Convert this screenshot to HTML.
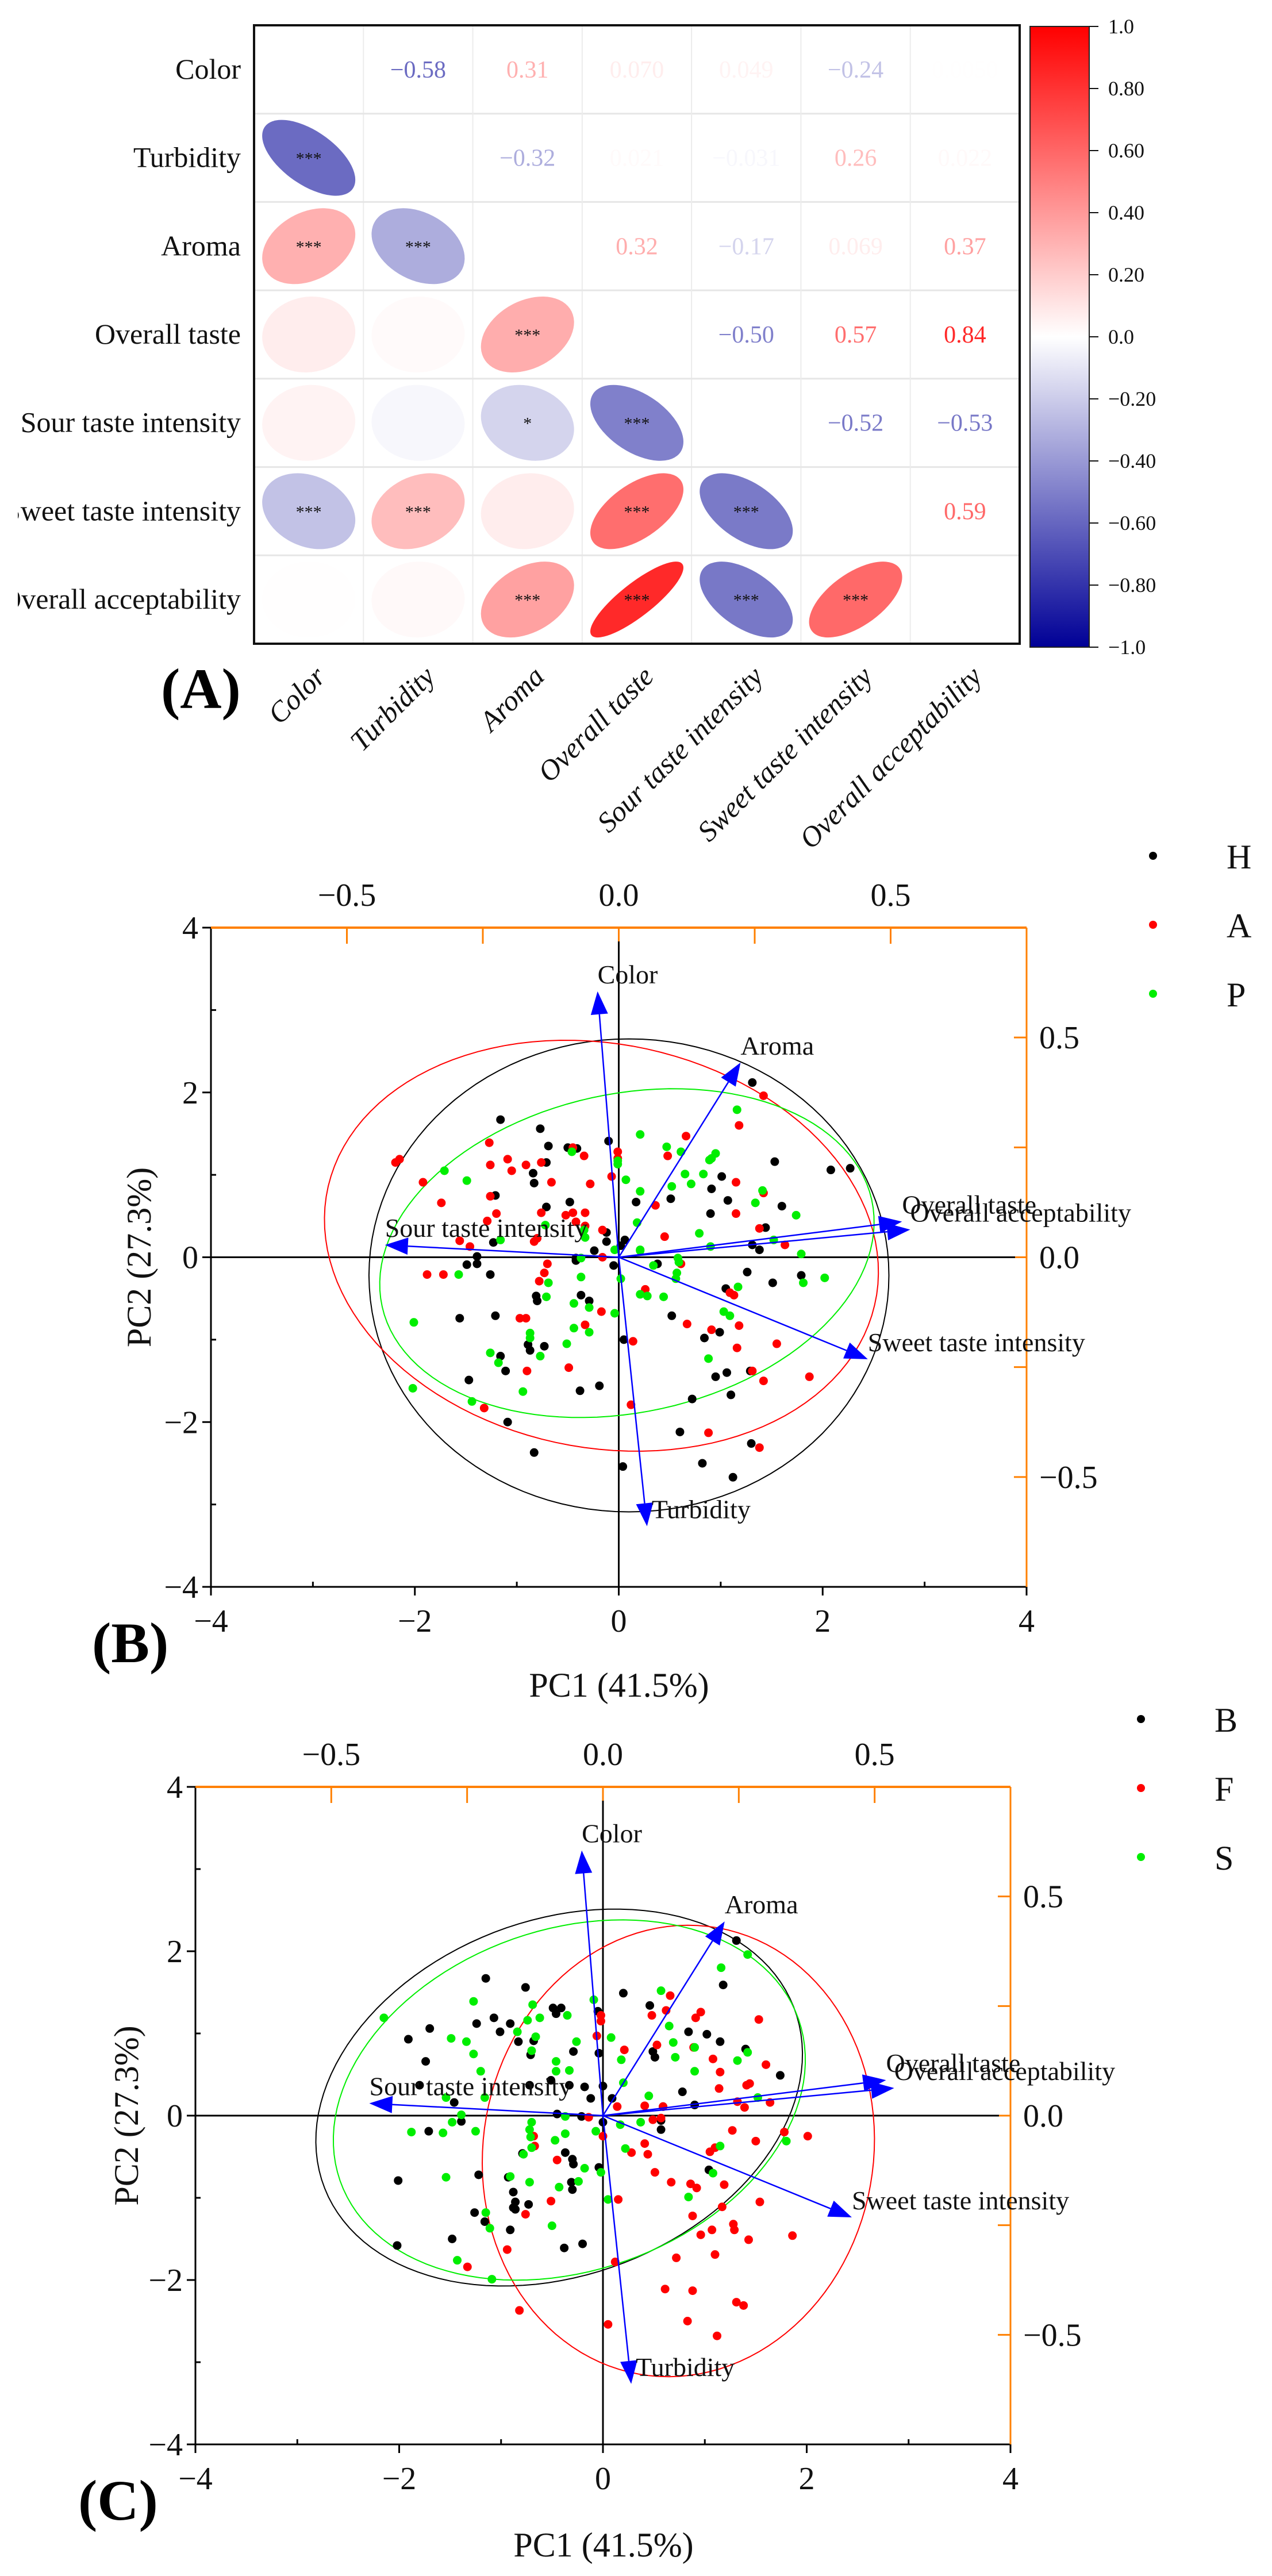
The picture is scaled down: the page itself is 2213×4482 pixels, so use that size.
<!DOCTYPE html>
<html><head><meta charset="utf-8"><style>
html,body{margin:0;padding:0;background:#fff;}
svg{display:block;font-family:"Liberation Serif",serif;}
</style></head><body>
<svg id="fig" xmlns="http://www.w3.org/2000/svg" width="2213" height="4482" viewBox="0 0 2213 4482">
<defs>
<linearGradient id="cbg" x1="0" y1="0" x2="0" y2="1">
<stop offset="0" stop-color="#ff0000"/><stop offset="0.5" stop-color="#ffffff"/><stop offset="1" stop-color="#000096"/>
</linearGradient>
<clipPath id="rowclip"><rect x="31" y="0" width="2182" height="1160"/></clipPath>
</defs>
<g id="panelA"></g>
<g id="panelB"></g>
<g id="panelC"></g>
</svg>
<script>
// ---------- Panel A data ----------
const varNames = ['Color','Turbidity','Aroma','Overall taste','Sour taste intensity','Sweet taste intensity','Overall acceptability'];
const corrColor = [1, -0.58, 0.31, 0.070, 0.049, -0.24, 0.005];
const corrTurbidity = [-0.58, 1, -0.32, 0.021, -0.031, 0.26, 0.022];
const corrAroma = [0.31, -0.32, 1, 0.32, -0.17, 0.069, 0.37];
const corrOverallTaste = [0.070, 0.021, 0.32, 1, -0.50, 0.57, 0.84];
const corrSour = [0.049, -0.031, -0.17, -0.50, 1, -0.52, -0.53];
const corrSweet = [-0.24, 0.26, 0.069, 0.57, -0.52, 1, 0.59];
const corrOA = [0.005, 0.022, 0.37, 0.84, -0.53, 0.59, 1];
const sigColor = ['', '***', '***', '', '', '***', ''];
const sigTurbidity = ['***', '', '***', '', '', '***', ''];
const sigAroma = ['***', '***', '', '***', '*', '', '***'];
const sigOverallTaste = ['', '', '***', '', '***', '***', '***'];
const sigSour = ['', '', '*', '***', '', '***', '***'];
const sigSweet = ['***', '***', '', '***', '***', '', '***'];
const sigOA = ['', '', '***', '***', '***', '***', ''];
const cbTicks = [1.0, 0.8, 0.6, 0.4, 0.2, 0.0, -0.2, -0.4, -0.6, -0.8, -1.0];
const cbTickLabels = ['1.0','0.80','0.60','0.40','0.20','0.0','\u22120.20','\u22120.40','\u22120.60','\u22120.80','\u22121.0'];

// ---------- PCA data (shared loadings) ----------
const loadNames = ['Color','Aroma','Overall taste','Overall acceptability','Sour taste intensity','Sweet taste intensity','Turbidity'];
const loadPC1 = [-0.039, 0.224, 0.521, 0.536, -0.430, 0.458, 0.052];
const loadPC2 = [0.605, 0.443, 0.081, 0.063, 0.028, -0.232, -0.612];
const pcaTicks = [-4, -2, 0, 2, 4];
const loadTicks = [-0.5, 0, 0.5];
const loadTickLabels = ['\u22120.5', '0.0', '0.5'];

// Panel B groups
const bGroupNames = ['H', 'A', 'P'];
const hX = [1.31,-1.16,-0.77,-0.69,-0.50,-0.41,-0.84,-0.83,-0.10,-0.71,1.53,2.08,2.27,1.01,0.91,1.07,0.51,0.17,-0.48,-0.71,1.60,0.90,1.44,1.31,1.38,0.06,-0.12,0.02,-0.24,-1.21,-1.23,-1.39,-1.39,-1.49,-1.26,-0.42,-0.05,0.38,1.26,1.51,1.79,1.05,-1.56,-1.21,-0.81,-0.80,-0.29,-0.37,0.52,0.99,0.84,0.05,-0.89,-0.87,-0.73,-1.16,-1.11,-1.47,-0.38,-0.19,0.95,1.06,1.29,0.72,1.10,-1.09,-0.83,0.60,0.82,0.04,1.12,1.30,-0.12,-0.42];
const hY = [2.12,1.67,1.56,1.35,1.33,1.32,1.02,0.90,1.41,1.15,1.16,1.06,1.08,0.98,0.83,0.69,0.71,0.67,0.67,0.61,0.62,0.53,0.36,0.15,0.09,0.21,0.19,0.14,0.08,0.75,0.18,0.01,-0.08,-0.09,-0.21,-0.04,-0.10,-0.08,-0.18,-0.31,-0.22,-0.38,-0.74,-0.71,-0.47,-0.53,-0.53,-0.46,-0.71,-0.91,-0.98,-1.00,-1.06,-1.13,-1.08,-1.20,-1.38,-1.49,-1.62,-1.56,-1.45,-1.40,-1.38,-1.72,-1.67,-2.00,-2.37,-2.12,-2.50,-2.54,-2.67,-2.26,0.30,-0.01];
const aX = [1.42,1.18,0.66,0.48,1.15,1.42,1.15,1.38,1.63,0.45,0.36,-0.01,-0.01,-0.07,-0.28,-0.45,-0.34,-0.76,-0.91,-1.05,-1.26,-1.09,-1.27,-2.15,-2.19,-1.92,-1.74,-1.26,-1.20,-0.66,-0.76,-0.52,-0.45,-0.33,-0.42,-0.16,-0.33,-0.83,-1.56,-1.46,-1.88,-1.72,-0.70,-0.78,-0.73,-0.16,0.26,0.61,1.09,1.13,1.18,0.67,0.91,1.16,1.55,1.87,1.42,1.31,0.14,-0.17,-0.33,-0.49,-0.91,-0.97,-0.90,-1.32,0.12,0.88,1.38,-0.80,-1.29];
const aY = [1.96,1.60,1.47,1.23,0.91,0.78,0.53,0.35,0.15,0.25,0.63,1.28,1.20,0.98,0.89,1.33,1.23,1.15,1.12,1.05,1.12,1.19,1.39,1.19,1.15,0.91,0.66,0.74,0.53,0.91,0.54,0.51,0.54,0.54,0.43,0.33,0.38,0.19,0.20,0.13,-0.21,-0.21,-0.08,-0.29,-0.19,0.00,-0.39,-0.08,-0.43,-0.46,-0.83,-0.81,-0.88,-1.10,-1.05,-1.45,-1.50,-1.38,-1.02,-0.66,-0.82,-1.34,-0.74,-0.74,-1.38,-1.83,-1.79,-2.13,-2.31,0.23,0.44];
const pX = [1.16,0.21,0.47,0.61,0.95,0.89,0.65,0.83,0.71,0.52,0.07,-0.01,-0.01,0.21,1.34,1.41,1.74,0.79,0.90,1.52,1.79,2.02,1.81,1.03,1.09,1.17,0.88,0.59,0.57,0.56,0.44,0.28,0.21,0.02,-0.04,-0.29,-0.29,-0.44,-0.51,-0.44,-0.37,-0.37,-0.33,-0.34,-0.46,-0.72,-0.69,-0.71,-0.87,-0.87,-0.77,-0.94,-1.18,-1.26,-1.44,-2.02,-2.01,-1.57,-1.71,-1.49,-1.16,-0.04,0.21,0.34,0.58,0.18,0.91,0.21];
const pY = [1.79,1.49,1.34,1.28,1.26,1.18,1.01,1.01,0.89,0.86,0.94,1.17,1.13,0.80,0.66,0.81,0.51,0.29,0.13,0.21,0.04,-0.25,-0.31,-0.66,-0.71,-0.36,-1.23,-0.06,-0.19,-0.26,-0.48,-0.47,0.08,-0.26,-0.68,-0.91,-0.61,-0.86,-1.05,-0.56,-0.24,-0.01,0.24,0.33,1.28,0.39,-0.31,-0.48,-0.92,-0.98,-1.20,-1.63,-1.28,-1.16,-1.75,-1.59,-0.79,-0.21,1.05,0.93,0.21,0.09,0.09,-0.10,-0.01,0.42,1.20,-0.45];
// ellipse stats: [centerX, centerY, semiMajor, semiMinor, angleDeg]
const hEllipse = [0.10, -0.22, 2.55, 2.87, 0];
const aEllipse = [-0.17, 0.14, 2.80, 2.40, -28];
const pEllipse = [0.08, 0.05, 2.50, 1.90, 22];

// Panel C groups
const cGroupNames = ['B', 'F', 'S'];
const bX = [1.31,1.18,-1.15,-0.76,0.20,0.46,-0.49,-0.41,-0.46,-1.07,-1.24,-0.91,-1.01,-0.83,-0.68,-1.70,-1.91,-1.74,-0.71,-0.29,-0.05,-0.04,0.49,0.51,0.84,1.02,1.15,1.40,1.74,0.78,0.90,0.59,0.00,-0.18,-0.33,-0.51,-0.72,-1.46,-1.80,-1.39,-1.71,-2.01,-1.22,-0.79,-0.37,-0.30,-0.29,-0.31,-0.30,-0.04,0.00,0.09,-0.12,0.57,0.57,1.04,-0.93,-0.88,-0.86,-0.88,-0.73,-0.86,-1.26,-1.16,-0.91,-1.48,-2.02,-0.38,-0.20,-0.21,-0.45];
const bY = [2.13,1.59,1.67,1.56,1.49,1.34,1.31,1.31,1.24,1.19,1.12,1.12,1.02,0.90,0.91,1.06,0.93,0.66,0.74,0.78,1.27,0.76,0.78,0.71,1.02,0.99,0.90,0.81,0.49,0.29,0.13,0.11,0.36,0.35,0.37,0.43,0.37,0.16,0.37,-0.07,-0.19,-0.79,-0.72,-0.46,-0.45,-0.53,-0.59,-0.81,-0.90,-0.63,-0.08,0.21,0.21,-0.17,-0.06,-0.66,-0.75,-0.93,-1.05,-1.12,-1.08,-1.14,-1.18,-1.29,-1.39,-1.50,-1.58,-1.61,-1.56,-0.01,0.02];
const fX = [0.66,0.62,0.48,0.96,0.91,1.53,-0.02,-0.02,-0.06,0.21,0.53,0.89,1.08,1.60,1.15,1.41,1.44,1.32,1.39,1.64,1.78,2.01,1.50,1.27,1.14,0.59,0.57,0.49,0.41,1.10,1.05,0.86,1.19,1.54,1.28,1.29,1.43,1.86,1.17,0.92,0.96,1.07,1.10,0.72,0.88,0.51,0.67,0.44,0.28,0.41,0.15,0.12,-0.45,-0.51,-0.76,-0.94,-1.33,-0.82,0.05,0.61,0.88,0.83,1.12,1.31,1.38,0.14,-0.14,0.00,-0.68,-0.67];
const fY = [1.46,1.28,1.22,1.26,1.19,1.17,1.22,1.15,0.97,0.80,0.86,0.83,0.69,0.62,0.53,0.37,0.39,0.17,0.10,0.16,-0.20,-0.25,-0.31,-0.18,0.33,0.11,-0.03,-0.05,0.12,-0.39,-0.44,-0.83,-0.84,-1.05,-1.32,-1.39,-1.51,-1.46,-1.11,-0.88,-1.45,-1.39,-1.69,-1.73,-1.22,-0.69,-0.81,-0.47,-0.45,-0.34,-1.02,-1.78,-0.54,-1.04,-1.20,-1.63,-1.84,-2.37,-2.54,-2.11,-2.13,-2.50,-2.68,-2.27,-2.31,0.11,-0.02,-0.25,-0.25,-0.37];
const sX = [1.42,1.16,0.57,-2.15,-1.27,-0.69,-0.74,-0.62,-0.35,-0.09,-0.84,-1.49,-1.34,-1.27,-1.20,-0.66,-0.70,-0.46,-0.46,-0.33,-0.26,0.08,0.18,0.20,0.45,0.65,0.69,0.71,0.90,0.90,1.32,1.42,1.52,1.80,1.15,1.08,0.84,0.22,0.17,0.37,-0.07,-0.02,0.05,-0.18,-0.24,-0.37,-0.37,-0.47,-0.70,-0.72,-0.71,-0.70,-0.72,-0.91,-0.78,-0.50,-0.43,-1.15,-1.11,-1.43,-1.09,-1.54,-1.57,-1.88,-1.48,-1.39,-1.25,-1.16,-1.54];
const sY = [1.96,1.80,1.52,1.19,1.39,1.35,1.16,1.19,1.22,1.41,1.02,0.94,0.90,0.75,0.54,0.96,0.79,0.66,0.54,0.55,0.90,0.95,0.68,0.40,0.24,1.09,0.89,0.71,0.83,0.54,0.67,0.77,0.22,-0.31,-0.37,-0.70,-0.99,-0.40,-0.11,-0.08,-0.19,-0.69,-1.02,-0.64,-0.80,-0.01,-0.22,-0.30,-0.08,-0.17,-0.26,-0.39,-0.81,-0.74,-0.47,-1.34,-0.87,-1.18,-1.37,-1.76,-1.99,-0.75,-0.21,-0.20,-0.08,0.01,-0.19,0.22,0.22];
const bEllipse = [-0.43, 0.22, 2.60, 2.05, 40];
const fEllipse = [0.74, -0.43, 2.75, 1.92, 86];
const sEllipse = [-0.33, 0.19, 2.50, 1.98, 38];

// ---------- helpers ----------
const NS = 'http://www.w3.org/2000/svg';
function mk(tag, attrs, parent) {
  const e = document.createElementNS(NS, tag);
  for (const k in attrs) e.setAttribute(k, attrs[k]);
  parent.appendChild(e);
  return e;
}
function corrColorOf(r) {
  if (r >= 0) { const t = Math.min(r, 1); const g = Math.round(255 * (1 - t)); return `rgb(255,${g},${g})`; }
  const t = Math.min(-r, 1); const g = Math.round(255 * (1 - t)); const b = Math.round(255 - t * 105); return `rgb(${g},${g},${b})`;
}
function fmt(r) { let s = Math.abs(r).toPrecision(2); return (r < 0 ? '\u2212' : '') + s; }

// ---------- Panel A ----------
(function () {
  const g = document.getElementById('panelA');
  const corr = [corrColor, corrTurbidity, corrAroma, corrOverallTaste, corrSour, corrSweet, corrOA];
  const sig = [sigColor, sigTurbidity, sigAroma, sigOverallTaste, sigSour, sigSweet, sigOA];
  const L = 442, T = 44, R = 1774, B = 1120, n = varNames.length;
  const cw = (R - L) / n, ch = (B - T) / n;
  const bg = mk('rect', {x: L, y: T, width: R - L, height: B - T, fill: '#fff'}, g);
  
  
  for (let k = 1; k < n; k++) {
    const vl = mk('line', {x1: L + cw * k, y1: T, x2: L + cw * k, y2: B, stroke: '#ececec', 'stroke-width': 2}, g);
    
    
    const hl = mk('line', {x1: L, y1: T + ch * k, x2: R, y2: T + ch * k, stroke: '#e6e6e6', 'stroke-width': 3}, g);
    
    
  }
  for (let i = 0; i < n; i++) {
    for (let j = 0; j < n; j++) {
      const cx = L + cw * (j + 0.5), cy = T + ch * (i + 0.5), r = corr[i][j];
      if (j < i) {
        const a = Math.sqrt(1 + Math.abs(r)), b = Math.sqrt(Math.max(1 - Math.abs(r), 0.001));
        const el = mk('ellipse', {cx: 0, cy: 0, rx: a, ry: b, fill: corrColorOf(r), transform: `translate(${cx},${cy}) scale(81,66) rotate(${r >= 0 ? -45 : 45})`}, g);
        
        
        if (sig[i][j]) {
          const st = mk('text', {x: cx, y: cy + 11, 'text-anchor': 'middle', 'font-size': 30, fill: '#111'}, g);
          st.textContent = sig[i][j];
          
          
        }
      } else if (j > i) {
        const t = mk('text', {x: cx, y: cy + 14, 'text-anchor': 'middle', 'font-size': 42, fill: corrColorOf(r)}, g);
        t.textContent = fmt(r);
        
        
      }
    }
  }
  const fr = mk('rect', {x: L, y: T, width: R - L, height: B - T, fill: 'none', stroke: '#111', 'stroke-width': 4}, g);
  
  
  const rowG = mk('g', {'clip-path': 'url(#rowclip)'}, g);
  for (let i = 0; i < n; i++) {
    const t = mk('text', {x: 419, y: T + ch * (i + 0.5) + 16, 'text-anchor': 'end', 'font-size': 50, fill: '#111'}, rowG);
    t.textContent = varNames[i];
    
    
  }
  for (let j = 0; j < n; j++) {
    const x = L + cw * (j + 0.5) + 32, y = 1180;
    const t = mk('text', {x: x, y: y, 'text-anchor': 'end', 'font-size': 50, 'font-style': 'italic', fill: '#111', transform: `rotate(-45 ${x} ${y})`}, g);
    t.textContent = varNames[j];
    
    
  }
  const cbL = 1792, cbR = 1895, cbT = 46, cbB = 1126;
  const cb = mk('rect', {x: cbL, y: cbT, width: cbR - cbL, height: cbB - cbT, fill: 'url(#cbg)', stroke: '#222', 'stroke-width': 2}, g);
  
  
  cbTicks.forEach((v, k) => {
    const y = cbT + (1 - v) / 2 * (cbB - cbT);
    const tl = mk('line', {x1: cbR, y1: y, x2: cbR + 16, y2: y, stroke: '#111', 'stroke-width': 2}, g);
    
    
    const t = mk('text', {x: 1928, y: y + 12, 'font-size': 36, fill: '#111'}, g);
    t.textContent = cbTickLabels[k];
    
    
  });
  const pl = mk('text', {x: 280, y: 1232, 'font-size': 100, 'font-weight': 'bold', fill: '#000'}, g);
  pl.textContent = '(A)';
  
  
})();

// ---------- PCA biplot ----------
function drawPCA(g, cfg) {
  const {L, R, T, B} = cfg;
  const X0 = (L + R) / 2, Y0 = (T + B) / 2;
  const sx = v => X0 + v / 4 * (R - L) / 2;
  const sy = v => Y0 - v / 4 * (B - T) / 2;
  const lx = v => X0 + v / 0.75 * (R - L) / 2;
  const ly = v => Y0 - v / 0.75 * (B - T) / 2;
  const black = '#000', orange = '#ff8000';
  let e;
  e = mk('line', {x1: L, y1: T, x2: L, y2: B, stroke: black, 'stroke-width': 3}, g);
   
  e = mk('line', {x1: L, y1: B, x2: R, y2: B, stroke: black, 'stroke-width': 3}, g);
   
  e = mk('line', {x1: L, y1: T, x2: R, y2: T, stroke: orange, 'stroke-width': 4}, g);
   
  e = mk('line', {x1: R, y1: T, x2: R, y2: B, stroke: orange, 'stroke-width': 3}, g);
   
  for (let v = -4; v <= 4; v++) {
    const major = v % 2 === 0;
    e = mk('line', {x1: sx(v), y1: B, x2: sx(v), y2: major ? B + 15 : B - 9, stroke: black, 'stroke-width': 3}, g);
     
    e = mk('line', {x1: L, y1: sy(v), x2: major ? L - 15 : L + 9, y2: sy(v), stroke: black, 'stroke-width': 3}, g);
     
  }
  pcaTicks.forEach(v => {
    let t = mk('text', {x: sx(v), y: B + 78, 'text-anchor': 'middle', 'font-size': 56, fill: '#111'}, g);
    t.textContent = v < 0 ? '\u2212' + Math.abs(v) : String(v);
     
    t = mk('text', {x: L - 22, y: sy(v) + 19, 'text-anchor': 'end', 'font-size': 56, fill: '#111'}, g);
    t.textContent = v < 0 ? '\u2212' + Math.abs(v) : String(v);
     
  });
  [-0.5, -0.25, 0, 0.25, 0.5].forEach(v => {
    e = mk('line', {x1: lx(v), y1: T, x2: lx(v), y2: T + 28, stroke: orange, 'stroke-width': 3}, g);
     
    e = mk('line', {x1: R, y1: ly(v), x2: R - 22, y2: ly(v), stroke: orange, 'stroke-width': 3}, g);
     
  });
  loadTicks.forEach((v, k) => {
    let t = mk('text', {x: lx(v), y: T - 38, 'text-anchor': 'middle', 'font-size': 56, fill: '#111'}, g);
    t.textContent = loadTickLabels[k];
     
    t = mk('text', {x: R + 22, y: ly(v) + 19, 'font-size': 56, fill: '#111'}, g);
    t.textContent = loadTickLabels[k];
     
  });
  e = mk('line', {x1: L, y1: sy(0), x2: R - 20, y2: sy(0), stroke: black, 'stroke-width': 3}, g);
   
  e = mk('line', {x1: sx(0), y1: T + 24, x2: sx(0), y2: B, stroke: black, 'stroke-width': 3}, g);
   
  cfg.groups.forEach(grp => {
    const [cx, cy, a, b, ang] = grp.ell;
    const th = ang * Math.PI / 180;
    let d = '';
    for (let k = 0; k <= 120; k++) {
      const t = k / 120 * 2 * Math.PI;
      const ux = a * Math.cos(t), uy = b * Math.sin(t);
      const dx = cx + ux * Math.cos(th) - uy * Math.sin(th);
      const dy = cy + ux * Math.sin(th) + uy * Math.cos(th);
      d += (k ? 'L' : 'M') + sx(dx).toFixed(1) + ' ' + sy(dy).toFixed(1);
    }
    const p = mk('path', {d: d + 'Z', fill: 'none', stroke: grp.color, 'stroke-width': 2}, g);
    
    
  });
  cfg.groups.forEach(grp => {
    grp.xs.forEach((x, k) => {
      const c = mk('circle', {cx: sx(x), cy: sy(grp.ys[k]), r: 7.5, fill: grp.color}, g);
      
      
    });
  });
  loadNames.forEach((nm, k) => {
    const x2 = lx(loadPC1[k]), y2 = ly(loadPC2[k]);
    const ang = Math.atan2(y2 - Y0, x2 - X0), hl = 40, hw = 15;
    const bx = x2 - hl * Math.cos(ang), by = y2 - hl * Math.sin(ang);
    const ln = mk('line', {x1: X0, y1: Y0, x2: bx, y2: by, stroke: '#0000ff', 'stroke-width': 2.5}, g);
    
    
    const px = -Math.sin(ang) * hw, py = Math.cos(ang) * hw;
    const hd = mk('polygon', {points: `${x2},${y2} ${bx + px},${by + py} ${bx - px},${by - py}`, fill: '#0000ff'}, g);
    
    
    const t = mk('text', {x: x2 + (nm === 'Turbidity' ? 8 : 0), y: y2 - 14, 'font-size': 46, fill: '#111'}, g);
    t.textContent = nm;
    
    
  });
  let t = mk('text', {x: cfg.xTitleX, y: cfg.xTitleY, 'text-anchor': 'middle', 'font-size': 60, fill: '#111'}, g);
  t.textContent = 'PC1 (41.5%)';
   
  t = mk('text', {x: cfg.yTitleX, y: Y0, 'text-anchor': 'middle', 'font-size': 60, fill: '#111', transform: `rotate(-90 ${cfg.yTitleX} ${Y0})`}, g);
  t.textContent = 'PC2 (27.3%)';
   
  t = mk('text', {x: cfg.panelX, y: cfg.panelY, 'font-size': 100, 'font-weight': 'bold', fill: '#000'}, g);
  t.textContent = cfg.panel;
   
  cfg.groups.forEach((grp, k) => {
    const y = cfg.legY + k * 120;
    const c = mk('circle', {cx: cfg.legX, cy: y, r: 7, fill: grp.color}, g);
     
    const lt = mk('text', {x: cfg.legX + 128, y: y + 22, 'font-size': 60, fill: '#111'}, g);
    lt.textContent = grp.name;
     
  });
}

drawPCA(document.getElementById('panelB'), {
  L: 367, R: 1786, T: 1614, B: 2761, xTitleX: 1077, xTitleY: 2952, yTitleX: 262,
  panel: '(B)', panelX: 160, panelY: 2892, legX: 2006, legY: 1489,
  groups: [
    {name: bGroupNames[0], color: '#000000', xs: hX, ys: hY, ell: hEllipse},
    {name: bGroupNames[1], color: '#ff0000', xs: aX, ys: aY, ell: aEllipse},
    {name: bGroupNames[2], color: '#00ee00', xs: pX, ys: pY, ell: pEllipse}
  ]
});
drawPCA(document.getElementById('panelC'), {
  L: 340, R: 1758, T: 3109, B: 4253, xTitleX: 1050, xTitleY: 4448, yTitleX: 240,
  panel: '(C)', panelX: 136, panelY: 4384, legX: 1985, legY: 2991,
  groups: [
    {name: cGroupNames[0], color: '#000000', xs: bX, ys: bY, ell: bEllipse},
    {name: cGroupNames[1], color: '#ff0000', xs: fX, ys: fY, ell: fEllipse},
    {name: cGroupNames[2], color: '#00ee00', xs: sX, ys: sY, ell: sEllipse}
  ]
});
</script>
</body></html>
